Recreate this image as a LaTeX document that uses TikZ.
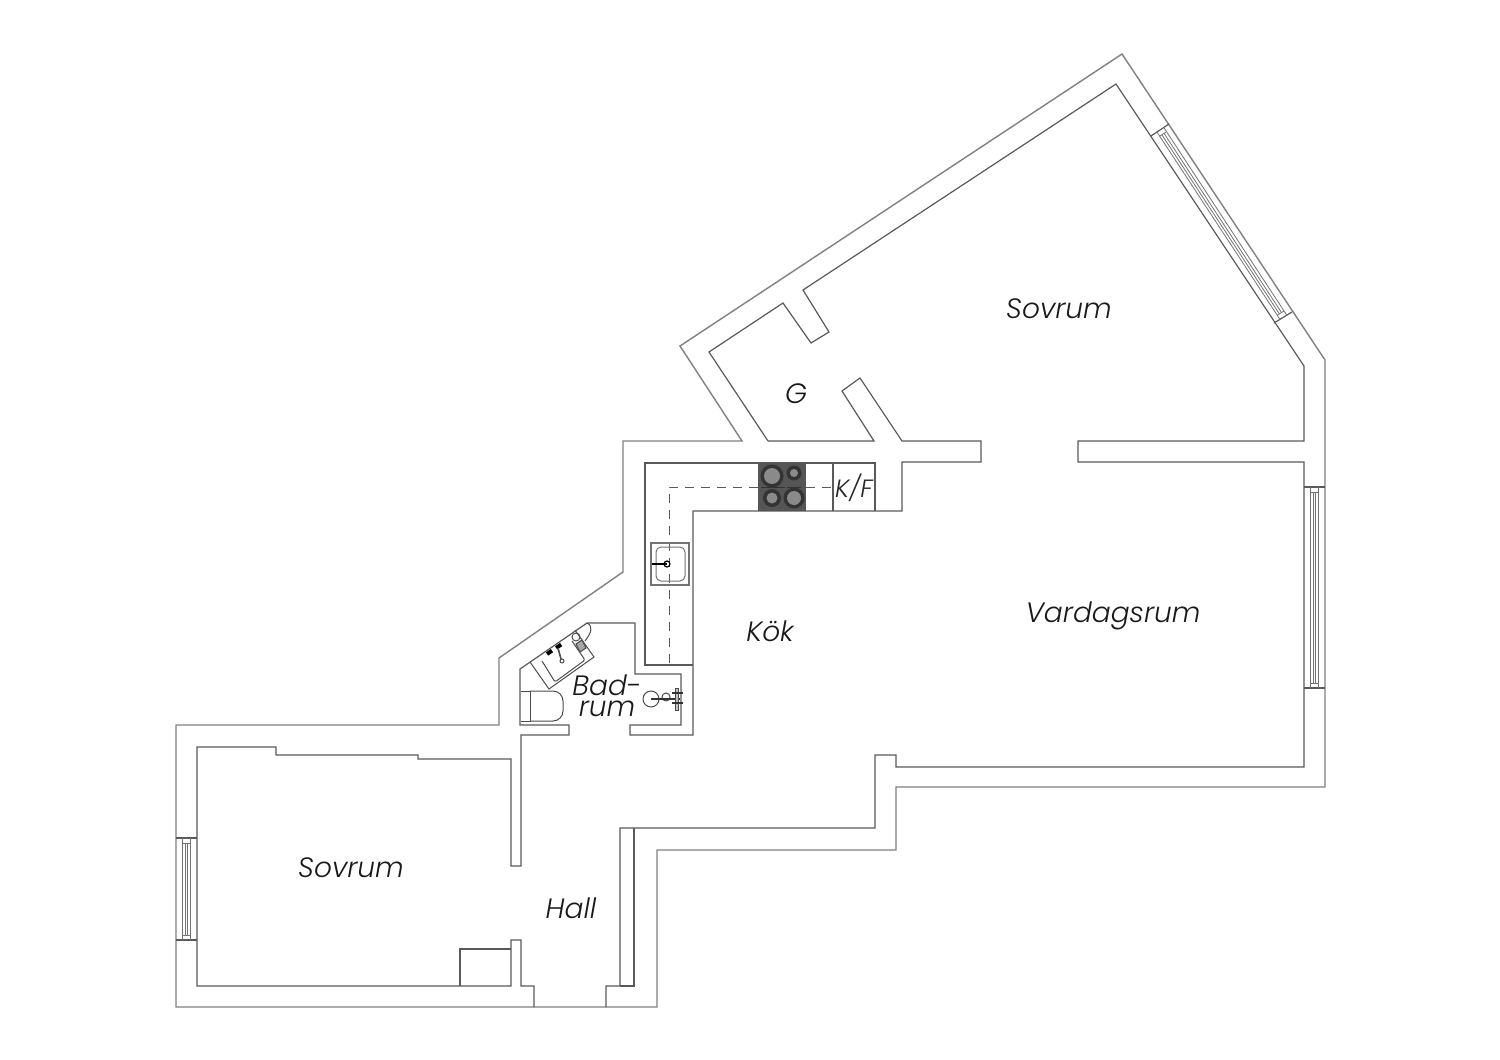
\documentclass[tikz,border=0pt]{standalone}
\usepackage{fontspec}
\usepackage{tikz}
\usetikzlibrary{calc}
\newfontfamily\roomfont{Poppins Light Italic}
\definecolor{hobdark}{HTML}{555555}
\definecolor{hobring}{HTML}{333333}
\definecolor{hobplate}{HTML}{8A8A8A}

% window across a wall: #1,#2 first reveal, #3,#4 second reveal
\newcommand{\windowunit}[4]{
    \coordinate (wa) at #1;
    \coordinate (wb) at #2;
    \coordinate (wc) at #3;
    \coordinate (wd) at #4;
    \draw[wallin] (wa) -- (wb);
    \draw[wallin] (wc) -- (wd);
    \foreach \f in {0.29,0.67}{
        \draw[wallthin] ($(wa)!\f!(wb)$) -- ($(wc)!\f!(wd)$);
    }
    \foreach \f in {0.43,0.55}{
        \coordinate (wp) at ($(wa)!\f!(wb)$);
        \coordinate (wq) at ($(wc)!\f!(wd)$);
        \draw[wallthin] ($(wp)!2.5pt!(wq)$) -- ($(wq)!2.5pt!(wp)$);
    }
    \draw[wallthin] ($($(wa)!0.29!(wb)$)!2.5pt!($(wc)!0.29!(wd)$)$) -- ($($(wa)!0.67!(wb)$)!2.5pt!($(wc)!0.67!(wd)$)$);
    \draw[wallthin] ($($(wc)!0.29!(wd)$)!2.5pt!($(wa)!0.29!(wb)$)$) -- ($($(wc)!0.67!(wd)$)!2.5pt!($(wa)!0.67!(wb)$)$);
}

\begin{document}
\begin{tikzpicture}[
    x=0.5pt, y=-0.5pt,
    wallout/.style={draw=black!50, line width=0.7pt, line join=miter},
    wallin/.style={draw=black!65, line width=0.6pt, line join=miter},
    wallthin/.style={draw=black!55, line width=0.4pt},
    fixture/.style={draw=black!70, line width=0.5pt},
    centerline/.style={draw=black!65, line width=0.5pt, dash pattern=on 4.5pt off 3.5pt},
    room/.style={font=\roomfont\fontsize{14}{10.5}\selectfont, text=black!90, align=center, inner sep=0pt},
    appliance/.style={font=\roomfont\fontsize{12.5}{12}\selectfont, text=black!85, inner sep=0pt}
]
\useasboundingbox (0,0) rectangle (1500,1060);
% OUTER WALLS
\draw[wallout] (176,725) -- (499,725) -- (499,658) -- (623,572) -- (623,441) -- (742,441) -- (680,346)
    -- (1122,54) -- (1325,360) -- (1325,787) -- (896,787) -- (896,850) -- (657,850) -- (657,1007)
    -- (176,1007) -- cycle;
% INNER WALLS
\draw[wallin] (768,441) -- (874,441) -- (842,391) -- (860,378) -- (902,441) -- (981,441) -- (981,462)
    -- (902,462) -- (902,511) -- (693,511) -- (693,735) -- (630,735) -- (630,725) -- (681,725)
    -- (681,674) -- (635,674) -- (635,623) -- (587,623) -- (520,669) -- (520,725) -- (569,725)
    -- (569,735) -- (521,735) -- (521,866) -- (511,866) -- (511,759) -- (418,759) -- (418,755)
    -- (276,755) -- (276,747) -- (197,747) -- (197,986) -- (511,986) -- (511,940) -- (521,940)
    -- (521,986) -- (534,986) -- (534,1007);
\draw[wallin] (768,441) -- (709,352) -- (783,303) -- (811,343) -- (829,332) -- (803,290) -- (1116,84)
    -- (1304,366) -- (1304,441) -- (1078,441) -- (1078,462) -- (1304,462) -- (1304,767) -- (896,767)
    -- (896,755) -- (875,755) -- (875,828) -- (620,828) -- (620,986) -- (606,986) -- (606,1007);
\draw[wallin] (634,828) -- (634,986) -- (620,986);
\draw[wallin] (460,986) -- (460,949) -- (511,949);
% WINDOWS
\windowunit{(176,838)}{(197,838)}{(176,940)}{(197,940)}
\windowunit{(1304,487)}{(1325,487)}{(1304,688)}{(1325,688)}
\windowunit{(1169,124)}{(1151,136)}{(1292,312)}{(1274,323)}
% KITCHEN
\draw[wallin] (875,511) -- (875,463) -- (645,463) -- (645,665) -- (693,665);
\draw[wallin] (833,463) -- (833,511);
\draw[centerline] (758,487) -- (669,487) -- (669,665);
\draw[centerline] (806,487) -- (833,487);
\fill[hobdark] (758,463) rectangle (806,511);
\foreach \hx/\hy/\hr in {772/476/11.5, 794/473/7.5, 772/498/9, 794/498/10.5}{
    \fill[hobring] (\hx,\hy) circle (\hr);
    \fill[hobplate] (\hx,\hy) circle (\hr-3.5);
}
\draw[hobring, line width=0.4pt] (761,487) -- (785,487);
\draw[hobring, line width=0.4pt] (787,487) -- (801,487);
\draw[fixture, draw=black!55, line width=1pt] (650.5,542.5) rectangle (688.5,584.5);
\draw[fixture, draw=black!55, rounded corners=2.5pt] (656,547) rectangle (685,581);
\draw[black, line width=0.7pt] (652,564) -- (667,564);
\draw[black, line width=0.6pt] (667,564) circle (3);
% BATHROOM
\draw[fixture, rounded corners=5pt] (530,691) -- (563,691) -- (563,721) -- (530,721);
\draw[fixture] (521,691) -- (530,691) -- (530,721) -- (521,721);
\draw[fixture] (530,662) -- (549,689) -- (594,657) -- (575,630);
\draw[fixture, rounded corners=1pt] (542,661) -- (555,682) -- (585,660) -- (572,641);
\draw[black, line width=2pt, dash pattern=on 3pt off 2.5pt] (547,654) -- (562,644);
\draw[fixture, line width=0.8pt] (558,648) -- (561,659);
\draw[fixture] (562,661) circle (2);
\draw[fixture] (587,623) .. controls (593,626) and (592,632) .. (585,641);
\draw[fixture] (576,637) circle (4);
\draw[fixture, fill=black!35] (576,644) -- (582,640) -- (586,648) -- (580,652) -- cycle;
\draw[fixture] (651,699) circle (8);
\draw[fixture] (666,697) circle (4);
\draw[black!80, line width=0.6pt] (651,699) -- (680,699);
\draw[fixture, fill=black!25] (675.5,688) rectangle (678.5,710);
\draw[black!80, line width=1.2pt] (672,703) -- (683,703);
\draw[black!80, line width=1.2pt] (672,693) -- (683,693);
% LABELS
\node[room] (bedroomtop) at (1059,309) {Sovrum};
\node[room] (closet) at (796,394) {G};
\node[appliance] (fridge) at (854,488) {K/F};
\node[room] (living) at (1113,616) {Vardagsrum};
\node[room] (kitchen) at (770,631) {Kök};
\node[room] (bathroom) at (607,696) {Bad-\\rum};
\node[room] (bedroomlow) at (351,868) {Sovrum};
\node[room] (hall) at (571,908) {Hall};
\end{tikzpicture}
\end{document}
